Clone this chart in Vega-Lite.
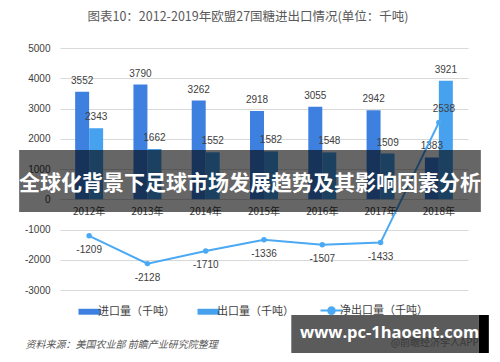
{
  "$schema": "https://vega.github.io/schema/vega-lite/v6.json",
  "width": 408,
  "height": 242,
  "autosize": {"type": "none"},
  "padding": {"left": 60, "top": 48, "right": 32, "bottom": 72},
  "background": "white",
  "config": {"view": {"stroke": null}, "font": "Liberation Sans", "axis": {"labelOverlap": false}, "axisY": {"labelOverlap": false, "tickCount": 9}},
  "title": {
    "text": "图表10：2012-2019年欧盟27国糖进出口情况(单位：千吨)",
    "font": "Noto Sans CJK SC",
    "fontSize": 12.5,
    "fontWeight": "normal",
    "color": "#595959",
    "anchor": "middle",
    "dx": -16,
    "offset": 20
  },
  "datasets": {
    "bars": [
      {"year": "2012年", "series": "进口量（千吨）", "value": 3552},
      {"year": "2012年", "series": "出口量（千吨）", "value": 2343},
      {"year": "2013年", "series": "进口量（千吨）", "value": 3790},
      {"year": "2013年", "series": "出口量（千吨）", "value": 1662},
      {"year": "2014年", "series": "进口量（千吨）", "value": 3262},
      {"year": "2014年", "series": "出口量（千吨）", "value": 1552},
      {"year": "2015年", "series": "进口量（千吨）", "value": 2918},
      {"year": "2015年", "series": "出口量（千吨）", "value": 1582},
      {"year": "2016年", "series": "进口量（千吨）", "value": 3055},
      {"year": "2016年", "series": "出口量（千吨）", "value": 1548},
      {"year": "2017年", "series": "进口量（千吨）", "value": 2942},
      {"year": "2017年", "series": "出口量（千吨）", "value": 1509},
      {"year": "2018年", "series": "进口量（千吨）", "value": 1383},
      {"year": "2018年", "series": "出口量（千吨）", "value": 3921}
    ],
    "net": [
      {"year": "2012年", "net": -1209},
      {"year": "2013年", "net": -2128},
      {"year": "2014年", "net": -1710},
      {"year": "2015年", "net": -1336},
      {"year": "2016年", "net": -1507},
      {"year": "2017年", "net": -1433},
      {"year": "2018年", "net": 2538}
    ]
  },
  "layer": [
    {
      "data": {"name": "bars"},
      "mark": {"type": "bar"},
      "encoding": {
        "x": {
          "field": "year", "type": "nominal", "sort": null,
          "scale": {"paddingInner": 0.52, "paddingOuter": 0.26},
          "axis": {
            "title": null, "orient": "bottom", "offset": -90.75, "labelPadding": 7,
            "ticks": false, "domain": false, "grid": false, "labelAngle": 0,
            "labelFontSize": 10, "labelColor": "#404040", "labelFont": "Noto Sans CJK SC"
          }
        },
        "xOffset": {"field": "series", "type": "nominal", "sort": ["进口量（千吨）", "出口量（千吨）"]},
        "y": {
          "field": "value", "type": "quantitative",
          "scale": {"domain": [-3000, 5000], "nice": false, "zero": false},
          "axis": {
            "values": [-3000, -2000, -1000, 0, 1000, 2000, 3000, 4000, 5000],
            "labelExpr": "'' + datum.value",
            "labelOverlap": false,
            "labelSeparation": 0,
            "labelBound": false,
            "title": "资料来源：美国农业部 前瞻产业研究院整理",
            "titleAngle": 0, "titleX": -35, "titleY": 296, "titleAlign": "left",
            "titleBaseline": "middle", "titleFontStyle": "italic", "titleFontWeight": "normal",
            "titleFontSize": 10, "titleColor": "#595959", "titleFont": "Noto Sans CJK SC",
            "domain": false, "ticks": false, "labelPadding": 10, "labelFontSize": 10,
            "labelColor": "#404040", "gridColor": "#d9d9d9", "gridWidth": 1
          }
        },
        "color": {
          "field": "series", "type": "nominal",
          "scale": {
            "domain": ["进口量（千吨）", "出口量（千吨）", "净出口量（千吨）"],
            "range": ["#3e80e0", "#46a1ee", "#4ba9f4"]
          },
          "legend": {
            "title": null, "orient": "none", "legendX": 24, "legendY": 257,
            "direction": "horizontal", "labelFont": "Noto Sans CJK SC", "labelFontSize": 11,
            "labelColor": "#404040", "symbolSize": 484, "columnPadding": 22, "labelOffset": 3,
            "encode": {
              "symbols": {
                "update": {
                  "shape": {"signal": "datum.value === '净出口量（千吨）' ? 'M-1,0L1,0M0.3,0A0.3,0.3 0 1,1 -0.3,0A0.3,0.3 0 1,1 0.3,0Z' : 'M-1,-0.27L1,-0.27L1,0.27L-1,0.27Z'"},
                  "fill": {"scale": "color", "field": "value"},
                  "stroke": {"scale": "color", "field": "value"},
                  "strokeWidth": {"signal": "datum.value === '净出口量（千吨）' ? 2 : 0"},
                  "opacity": {"value": 1}
                }
              }
            }
          }
        }
      }
    },
    {
      "data": {"name": "bars"},
      "mark": {"type": "text", "baseline": "middle", "dy": -11, "fontSize": 10, "color": "#404040"},
      "encoding": {
        "x": {"field": "year", "type": "nominal", "sort": null},
        "xOffset": {"field": "series", "type": "nominal", "sort": ["进口量（千吨）", "出口量（千吨）"]},
        "y": {"field": "value", "type": "quantitative"},
        "text": {"field": "value", "type": "nominal"}
      }
    },
    {
      "data": {"name": "net"},
      "mark": {"type": "line", "strokeWidth": 2, "point": {"filled": true, "size": 30}},
      "encoding": {
        "x": {"field": "year", "type": "nominal", "sort": null},
        "y": {"field": "net", "type": "quantitative"},
        "color": {"datum": "净出口量（千吨）", "type": "nominal"}
      }
    },
    {
      "data": {"name": "net"},
      "transform": [{"filter": "datum.net < 0"}],
      "mark": {"type": "text", "baseline": "middle", "dy": 14, "fontSize": 10, "color": "#404040"},
      "encoding": {
        "x": {"field": "year", "type": "nominal", "sort": null},
        "y": {"field": "net", "type": "quantitative"},
        "text": {"field": "net", "type": "nominal"}
      }
    },
    {
      "data": {"name": "net"},
      "transform": [{"filter": "datum.net >= 0"}],
      "mark": {"type": "text", "baseline": "middle", "dy": -13, "dx": 5, "fontSize": 10, "color": "#404040"},
      "encoding": {
        "x": {"field": "year", "type": "nominal", "sort": null},
        "y": {"field": "net", "type": "quantitative"},
        "text": {"field": "net", "type": "nominal"}
      }
    },
    {
      "data": {"values": [{}]},
      "mark": {"type": "rect", "color": "#000000", "opacity": 0.6, "xOffset": -70, "x2Offset": 42},
      "encoding": {
        "x": {"datum": "2012年", "type": "nominal", "bandPosition": 0.5},
        "x2": {"datum": "2018年", "bandPosition": 0.5},
        "y": {"datum": 1630, "type": "quantitative"},
        "y2": {"datum": -420}
      }
    },
    {
      "data": {"values": [{}]},
      "mark": {"type": "text", "text": "全球化背景下足球市场发展趋势及其影响因素分析", "font": "Noto Sans CJK SC", "fontSize": 21, "fontWeight": "bold", "color": "#ffffff", "baseline": "middle", "dx": -14},
      "encoding": {
        "y": {"datum": 500, "type": "quantitative"}
      }
    },
    {
      "data": {"values": [{}]},
      "mark": {"type": "rect", "color": "#5b5b5b", "xOffset": -31, "x2Offset": 40},
      "encoding": {
        "x": {"datum": "2016年", "type": "nominal", "bandPosition": 0.5},
        "x2": {"datum": "2018年", "bandPosition": 0.5},
        "y": {"datum": -3826, "type": "quantitative"},
        "y2": {"datum": -5083}
      }
    },
    {
      "data": {"values": [{}]},
      "mark": {"type": "rect", "color": "#000000", "xOffset": 40, "x2Offset": 50},
      "encoding": {
        "x": {"datum": "2018年", "type": "nominal", "bandPosition": 0.5},
        "x2": {"datum": "2018年", "bandPosition": 0.5},
        "y": {"datum": -3826, "type": "quantitative"},
        "y2": {"datum": -5083}
      }
    },
    {
      "data": {"values": [{}]},
      "mark": {"type": "text", "text": "@前瞻经济学人APP", "font": "Noto Sans CJK SC", "fontSize": 10, "color": "#3a3a3a", "align": "right", "baseline": "middle", "dx": 40},
      "encoding": {
        "x": {"datum": "2018年", "type": "nominal"},
        "y": {"datum": -4750, "type": "quantitative"}
      }
    },
    {
      "data": {"values": [{}]},
      "mark": {"type": "text", "text": "www.pc-1haoent.com", "font": "Open Sans", "fontSize": 16.5, "fontWeight": "bold", "color": "#ffffff", "align": "center", "baseline": "middle", "dx": 9},
      "encoding": {
        "x": {"datum": "2017年", "type": "nominal"},
        "y": {"datum": -4420, "type": "quantitative"}
      }
    }
  ]
}
